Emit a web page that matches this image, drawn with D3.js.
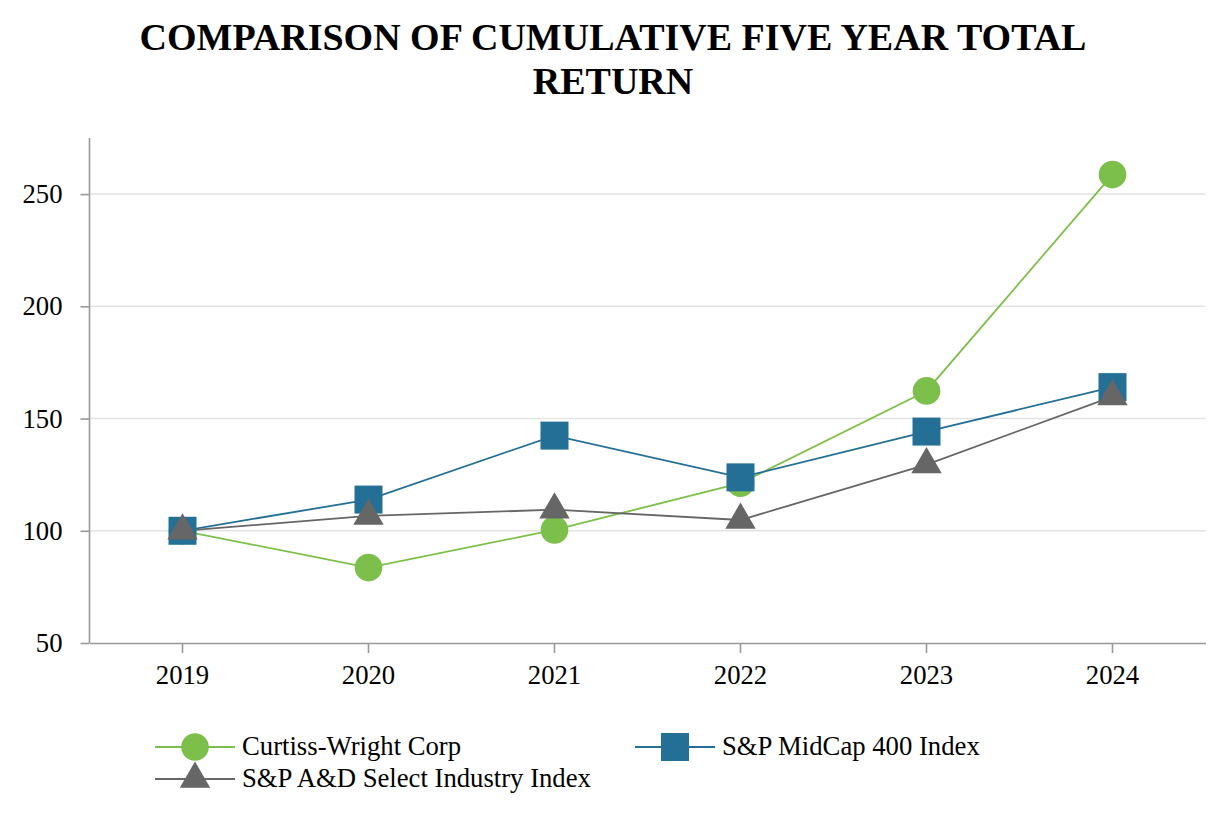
<!DOCTYPE html>
<html><head><meta charset="utf-8">
<script src="https://cdn.jsdelivr.net/npm/d3@7"></script>
<style>body{margin:0;background:#fff}</style>
</head><body>
<svg id="c" width="1226" height="828"></svg>
<script>
const years = ["2019","2020","2021","2022","2023","2024"];
const curtiss = [100, 83.6, 100.4, 121.2, 162.3, 258.7];
const midcap = [100, 113.9, 142.4, 123.8, 144.2, 164.0];
const aerospace = [100, 106.6, 109.4, 104.8, 129.5, 159.8];
const yTicks = [50, 100, 150, 200, 250];
const seriesNames = ["Curtiss-Wright Corp", "S&P MidCap 400 Index", "S&P A&D Select Industry Index"];
const titleLines = ["COMPARISON OF CUMULATIVE FIVE YEAR TOTAL", "RETURN"];

const svg = d3.select("#c");
const font = "'Liberation Serif','Times New Roman',serif";
const colors = ["#7dbf4b", "#236f96", "#666666"];
const shapes = [d3.symbolCircle, d3.symbolSquare, d3.symbolTriangle];
const sizes = [600, 784, 400];

const pLeft = 89.5, pRight = 1205.5, pTop = 138, pBottom = 643;
const x = d3.scaleBand().domain(years).range([pLeft, pRight]);
const y = d3.scaleLinear().domain([50, 275]).range([pBottom, pTop]);

svg.selectAll("text.title").data(titleLines).enter().append("text")
  .attr("x", 613).attr("y", (d,i)=>50+i*44).attr("text-anchor","middle")
  .style("font-family", font).style("font-weight","bold").style("font-size","38px")
  .text(d=>d);

// grid
svg.append("g").selectAll("line").data(yTicks.slice(1)).enter().append("line")
  .attr("x1", pLeft).attr("x2", pRight).attr("y1", d=>y(d)).attr("y2", d=>y(d))
  .attr("stroke", "#e3e3e3").attr("stroke-width", 1.5);

const yAxis = svg.append("g").attr("transform", `translate(${pLeft},0)`)
  .call(d3.axisLeft(y).tickValues(yTicks).tickSize(9).tickPadding(18).tickSizeOuter(0));
yAxis.select(".domain").attr("d", `M0,${pTop}V${pBottom}`);
const xAxis = svg.append("g").attr("transform", `translate(0,${pBottom})`)
  .call(d3.axisBottom(x).tickSize(10).tickPadding(12).tickSizeOuter(0));
[yAxis, xAxis].forEach(a=>{
  a.selectAll(".domain, line").attr("stroke", "#999").attr("stroke-width", 1.6);
  a.selectAll("text").style("font-family", font).style("font-size","26.7px").attr("fill","#000");
});

const data = [curtiss, midcap, aerospace];
const cx = d => x(d) + x.bandwidth()/2;
const line = d3.line().x((d,i)=>cx(years[i])).y(d=>y(d));
data.forEach((vals, s) => {
  svg.append("path").attr("d", line(vals)).attr("fill","none")
    .attr("stroke", colors[s]).attr("stroke-width", 1.8);
});
data.forEach((vals, s) => {
  svg.append("g").selectAll("path").data(vals).enter().append("path")
    .attr("d", d3.symbol().type(shapes[s]).size(sizes[s]))
    .attr("transform", (d,i)=>`translate(${cx(years[i])},${y(d)})`)
    .attr("fill", colors[s]);
});

// legend
const legPos = [[155, 747], [635, 747], [155, 779]];
seriesNames.forEach((name, s) => {
  const [lx, ly] = legPos[s];
  const g = svg.append("g").attr("transform", `translate(${lx},${ly})`);
  g.append("line").attr("x1",0).attr("x2",80).attr("y1",0).attr("y2",0)
    .attr("stroke", colors[s]).attr("stroke-width", 1.8);
  g.append("path").attr("d", d3.symbol().type(shapes[s]).size(sizes[s])).attr("transform","translate(40,0)")
    .attr("fill", colors[s]);
  g.append("text").attr("x", 87).attr("y", 8).style("font-family", font).style("font-size","26.7px")
    .text(name);
});
</script>
</body></html>
